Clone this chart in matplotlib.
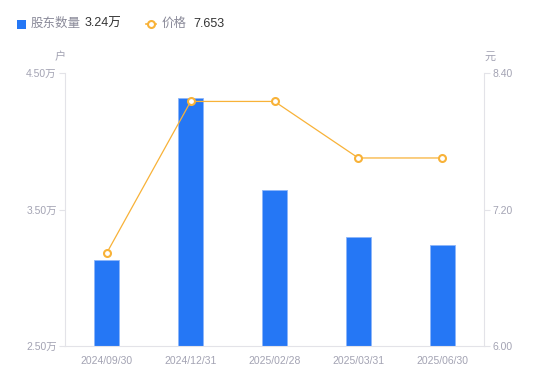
import matplotlib
matplotlib.use("Agg")
import matplotlib.pyplot as plt
from matplotlib.lines import Line2D
from matplotlib.patches import Rectangle

plt.rcParams['font.family'] = ['Liberation Sans', 'Noto Sans CJK SC', 'DejaVu Sans']

categories = ["2024/09/30", "2024/12/31", "2025/02/28", "2025/03/31", "2025/06/30"]
holders = [3.13, 4.32, 3.64, 3.30, 3.24]          # 万户
price = [6.82, 8.15, 8.15, 7.653, 7.653]          # 元
left_ticks = [2.50, 3.50, 4.50]
right_ticks = [6.00, 7.20, 8.40]

BLUE = "#2577F5"
ORANGE = "#F8B238"
GRAY = "#A3A3B3"
AXIS = "#E3E3E8"

fig = plt.figure(figsize=(5.5, 3.81), dpi=100)
ax = fig.add_axes([65/550, 1-346/381, (484-65)/550, (346-73)/381])
x = list(range(len(categories)))
ax.bar(x, holders, width=0.30, color=BLUE, edgecolor="#8DB6FA", linewidth=0.6, zorder=2)
ax.set_xlim(-0.5, len(categories)-0.5)
ax.set_ylim(left_ticks[0], left_ticks[-1])
ax.set_yticks(left_ticks)
ax.set_yticklabels([f"{v:.2f}万" for v in left_ticks])
ax.set_xticks(x)
ax.set_xticklabels(categories)
ax.tick_params(axis='x', length=0, pad=7, labelsize=7.5, labelcolor=GRAY)
ax.tick_params(axis='y', length=4, width=0.8, color=AXIS, pad=2, labelsize=7.5, labelcolor=GRAY)
for s in ['top', 'right']:
    ax.spines[s].set_visible(False)
ax.spines['left'].set_color(AXIS)
ax.spines['bottom'].set_color(AXIS)

ax2 = ax.twinx()
ax2.plot(x, price, color=ORANGE, linewidth=0.9, marker='o', markersize=5,
         markerfacecolor='white', markeredgecolor=ORANGE, markeredgewidth=1.5, zorder=3)
ax2.set_ylim(right_ticks[0], right_ticks[-1])
ax2.set_yticks(right_ticks)
ax2.set_yticklabels([f"{v:.2f}" for v in right_ticks])
ax2.tick_params(axis='y', length=4, width=0.8, color=AXIS, pad=2, labelsize=7.5, labelcolor=GRAY)
for s in ['top', 'left', 'bottom']:
    ax2.spines[s].set_visible(False)
ax2.spines['right'].set_color(AXIS)

fig.text(60/550, 1-57/381, "户", ha='center', va='center', fontsize=8, color=GRAY)
fig.text(490/550, 1-57/381, "元", ha='center', va='center', fontsize=8, color=GRAY)

# legend
fig.patches.append(Rectangle((17/550, 1-29/381), 9/550, 9/381, transform=fig.transFigure,
                             facecolor=BLUE, edgecolor='none'))
fig.text(31/550, 1-24/381, "股东数量", ha='left', va='center', fontsize=9, color="#8A8A99")
fig.text(85/550, 1-24/381, f"{holders[-1]:.2f}万", ha='left', va='center', fontsize=9, color="#333333")
fig.lines.append(Line2D([146/550, 156/550], [1-24/381, 1-24/381], transform=fig.transFigure,
                        color=ORANGE, linewidth=1.2, marker='o', markevery=[0], markersize=0))
fig.lines.append(Line2D([151/550], [1-24/381], transform=fig.transFigure, color=ORANGE,
                        marker='o', markersize=5, markerfacecolor='white', markeredgewidth=1.5,
                        markeredgecolor=ORANGE))
fig.text(162/550, 1-24/381, "价格", ha='left', va='center', fontsize=9, color="#8A8A99")
fig.text(193/550, 1-24/381, f"{price[-1]:.3f}", ha='left', va='center', fontsize=9, color="#333333")

fig.savefig("out.png", dpi=100)
